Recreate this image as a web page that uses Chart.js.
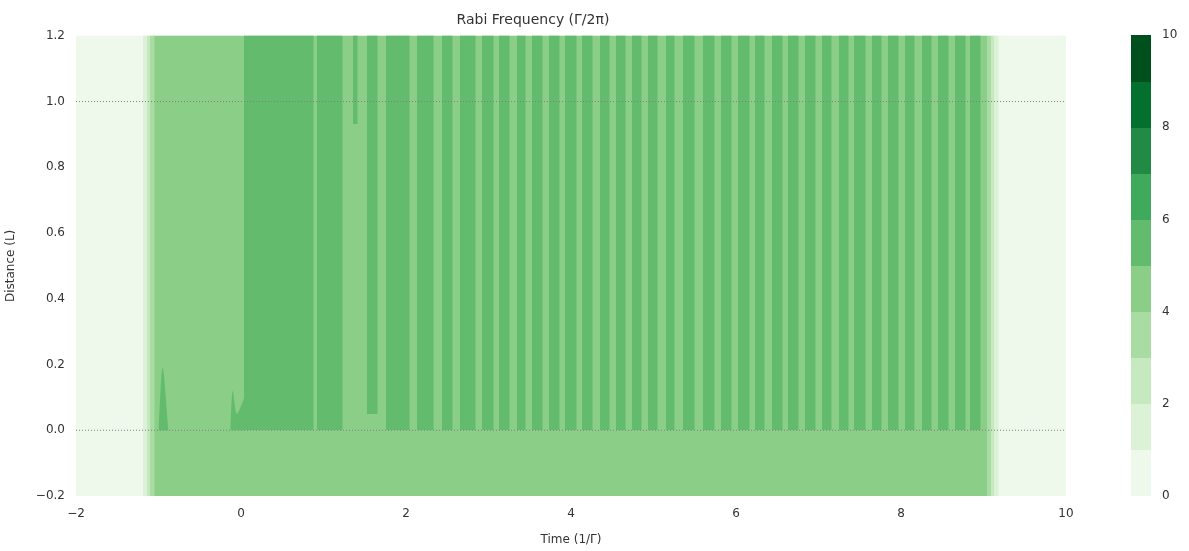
<!DOCTYPE html>
<html>
<head>
<meta charset="utf-8">
<script src="https://cdn.jsdelivr.net/npm/chart.js@4/dist/chart.umd.min.js"></script>
<style>
  body { margin: 0; background: #fff; }
  #main { position: absolute; left: 0; top: 0; }
  #cbar { position: absolute; left: 1131px; top: 0; }
</style>
</head>
<body>
<canvas id="main" width="1100" height="551"></canvas>
<canvas id="cbar" width="58" height="551"></canvas>
<script>
// Niveles de la barra de color (colormap Greens, 10 niveles)
const levels = [0, 1, 2, 3, 4, 5, 6, 7, 8, 9, 10];
const levelColors = ["#eef8eb", "#dcf2d7", "#c7e9c0", "#a9dca3", "#8ace88",
  "#63bb6d", "#3fa95c", "#228a44", "#03702e", "#00501e"];

// Bandas verticales del borde (tiempo inicio, tiempo fin, nivel)
const edgeStarts = [-1.184, -1.139, -1.103, 9.051, 9.091, 9.131];
const edgeEnds = [-1.139, -1.103, -1.055, 9.091, 9.131, 9.172];
const edgeLevels = [1, 2, 3, 3, 2, 1];

// Región principal (nivel 4-5)
const mainStart = -1.055;
const mainEnd = 9.051;

// Franjas oscuras (nivel 5-6) sobre Distancia 0..1.2
const stripeStarts = [0.040, 0.930, 1.361, 1.536, 1.766, 2.142, 2.445, 2.663, 2.930, 3.139,
  3.349, 3.536, 3.745, 3.939, 4.142, 4.360, 4.554, 4.743, 4.945, 5.152, 5.361, 5.612,
  5.827, 6.028, 6.239, 6.440, 6.642, 6.848, 7.051, 7.252, 7.442, 7.652, 7.846, 8.057,
  8.258, 8.452, 8.655, 8.848];
const stripeEnds = [0.869, 1.228, 1.402, 1.648, 2.036, 2.331, 2.561, 2.836, 3.058, 3.252,
  3.442, 3.657, 3.855, 4.061, 4.258, 4.461, 4.655, 4.848, 5.051, 5.248, 5.491, 5.737,
  5.948, 6.158, 6.343, 6.554, 6.755, 6.958, 7.160, 7.361, 7.564, 7.758, 7.960, 8.161,
  8.364, 8.566, 8.767, 8.958];
const stripeBottoms = [0, 0, 0.93, 0.05, 0, 0, 0, 0, 0, 0, 0, 0, 0, 0, 0, 0, 0, 0, 0,
  0, 0, 0, 0, 0, 0, 0, 0, 0, 0, 0, 0, 0, 0, 0, 0, 0, 0, 0];

// Picos pequeños cerca de t=-1 y t=0
const peak1 = [{ x: -1.0, y: 0 }, { x: -0.95, y: 0.19 }, { x: -0.88, y: 0 }];
const peak2 = [{ x: -0.13, y: 0 }, { x: -0.1, y: 0.12 }, { x: -0.05, y: 0.05 }, { x: 0.05, y: 0.1 }, { x: 0.05, y: 0 }];

const textColor = "#333333";
const fontFamily = "'DejaVu Sans', sans-serif";

// Formato de ticks con signo menos tipográfico
function fmt(v, d) {
  const s = (Math.abs(v) < 1e-9 ? 0 : v).toFixed(d);
  return s.replace("-", "\u2212");
}

// Construir rectángulos a partir de los arreglos
const rects = [];
rects.push({ x0: -2, x1: 10, y0: -0.2, y1: 1.2, color: levelColors[0] });
rects.push({ x0: mainStart, x1: mainEnd, y0: -0.2, y1: 1.2, color: levelColors[4] });
edgeStarts.forEach((s, i) => {
  rects.push({ x0: s, x1: edgeEnds[i], y0: -0.2, y1: 1.2, color: levelColors[edgeLevels[i]] });
});
stripeStarts.forEach((s, i) => {
  rects.push({ x0: s, x1: stripeEnds[i], y0: stripeBottoms[i], y1: 1.2, color: levelColors[5] });
});

// Plugin que dibuja rectángulos usando las escalas del gráfico
const rectPlugin = {
  id: "rects",
  beforeDatasetsDraw(chart, args, opts) {
    const { ctx, chartArea, scales } = chart;
    ctx.save();
    ctx.beginPath();
    ctx.rect(chartArea.left, chartArea.top, chartArea.width, chartArea.height);
    ctx.clip();
    (opts.items || []).forEach((r) => {
      const xa = scales.x.getPixelForValue(r.x0);
      const xb = scales.x.getPixelForValue(r.x1);
      const ya = scales.y.getPixelForValue(r.y1);
      const yb = scales.y.getPixelForValue(r.y0);
      ctx.fillStyle = r.color;
      ctx.fillRect(Math.floor(xa), Math.floor(ya), Math.ceil(xb - xa) + 0.5, Math.ceil(yb - ya));
    });
    ctx.restore();
  },
};

new Chart(document.getElementById("main"), {
  type: "line",
  plugins: [rectPlugin],
  data: {
    datasets: [
      { data: peak1, fill: true, backgroundColor: levelColors[5], borderWidth: 0, pointRadius: 0, tension: 0.3 },
      { data: peak2, fill: true, backgroundColor: levelColors[5], borderWidth: 0, pointRadius: 0, tension: 0.3 },
      { data: [{ x: -2, y: 0 }, { x: 10, y: 0 }], borderColor: "#808080", borderWidth: 1, borderDash: [1, 2], pointRadius: 0, fill: false },
      { data: [{ x: -2, y: 1 }, { x: 10, y: 1 }], borderColor: "#808080", borderWidth: 1, borderDash: [1, 2], pointRadius: 0, fill: false },
    ],
  },
  options: {
    responsive: false,
    animation: false,
    layout: { padding: { top: 2, right: 34 } },
    plugins: {
      legend: { display: false },
      tooltip: { enabled: false },
      rects: { items: rects },
      title: {
        display: true,
        text: "Rabi Frequency (Γ/2π)",
        color: textColor,
        font: { family: fontFamily, size: 14, weight: "normal" },
        padding: { top: 10, bottom: 7 },
      },
    },
    scales: {
      x: {
        type: "linear", min: -2, max: 10,
        grid: { display: false }, border: { display: false },
        ticks: { stepSize: 2, color: textColor, font: { family: fontFamily, size: 12 },
          callback: (v) => fmt(v, 0) },
        title: { display: true, text: "Time (1/Γ)", color: textColor, font: { family: fontFamily, size: 12 } },
        afterFit(s) { s.height = 55; },
      },
      y: {
        type: "linear", min: -0.2, max: 1.2,
        grid: { display: false }, border: { display: false },
        ticks: { stepSize: 0.2, color: textColor, font: { family: fontFamily, size: 12 },
          callback: (v) => fmt(v, 1) },
        title: { display: true, text: "Distance (L)", color: textColor, font: { family: fontFamily, size: 12 } },
        afterFit(s) { s.width = 76; },
      },
    },
  },
});

// Barra de color
const cbarRects = levelColors.map((c, i) => ({ x0: 0, x1: 1, y0: levels[i], y1: levels[i + 1], color: c }));

new Chart(document.getElementById("cbar"), {
  type: "line",
  plugins: [rectPlugin],
  data: { datasets: [] },
  options: {
    responsive: false,
    animation: false,
    layout: { padding: { top: 35, bottom: 55 } },
    plugins: { legend: { display: false }, tooltip: { enabled: false }, rects: { items: cbarRects } },
    scales: {
      x: { type: "linear", min: 0, max: 1, display: false },
      y: {
        type: "linear", min: 0, max: 10, position: "right",
        grid: { display: false }, border: { display: false },
        ticks: { stepSize: 2, color: textColor, font: { family: fontFamily, size: 12 } },
        afterFit(s) { s.width = 38; },
      },
    },
  },
});
</script>
</body>
</html>
